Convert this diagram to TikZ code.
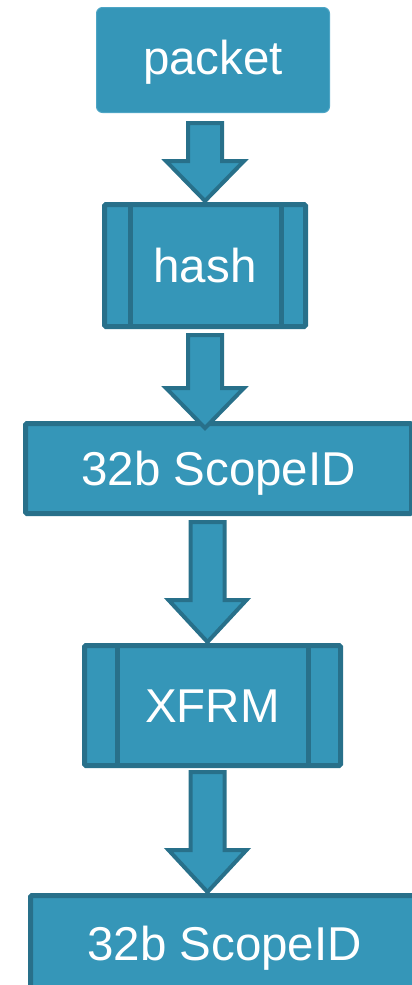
\documentclass[tikz,border=0pt]{standalone}
\usepackage{fontspec}
\setmainfont{Liberation Sans}
\usetikzlibrary{calc}

\definecolor{boxfill}{HTML}{3596B8}
\definecolor{boxline}{HTML}{28708A}
\definecolor{softline}{HTML}{4DA5C5}

\tikzset{
  x=1pt, y=-1pt,
  label text/.style={text=white, font=\fontsize{47.5}{47.5}\selectfont,
    text height=34pt, text depth=0pt, inner sep=0pt},
  roundbox/.style={label text, rectangle, rounded corners=6pt,
    fill=boxfill, draw=softline, line width=1pt},
  databox/.style={label text, rectangle, rounded corners=1.5pt,
    fill=boxfill, draw=boxline, line width=5pt},
  procbox/.style={databox},
  procline/.style={draw=boxline, line width=5pt},
  flow/.style={fill=boxfill, draw=boxline, line width=4pt, line join=miter},
}

% block arrow: #1 centre x, #2 upper node, #3 lower node,
% #4 gap below the upper node, #5 overshoot into the lower node, #6 head length
\newcommand\flowarrow[6]{%
  \draw[flow] let \p1=(#2.south), \p2=(#3.north) in
    (#1-17, \y1-#4pt-2pt) -- (#1+17, \y1-#4pt-2pt)
    -- (#1+17, \y2-#5pt+#6pt) -- (#1+39, \y2-#5pt+#6pt)
    -- (#1, \y2-#5pt)
    -- (#1-39, \y2-#5pt+#6pt) -- (#1-17, \y2-#5pt+#6pt) -- cycle;
}

\begin{document}
\begin{tikzpicture}
  \useasboundingbox (0,0) rectangle (412,985);
  \clip (0,0) rectangle (412,985);

  % boxes
  \node[roundbox, minimum width=233pt, minimum height=105pt, text depth=5pt]
    (packet) at (213,60) {packet};
  \node[procbox, minimum width=201pt, minimum height=122pt]
    (hash) at (205,265.5) {hash};
  \node[databox, minimum width=386pt, minimum height=90pt]
    (scopeA) at (218.5,468.5) {32b ScopeID};
  \node[procbox, minimum width=256pt, minimum height=120pt]
    (xfrm) at (212.5,705.5) {XFRM};
  \node[databox, minimum width=388pt, minimum height=95pt]
    (scopeB) at (224.5,943) {32b ScopeID};

  % side bars of the process boxes
  \draw[procline] ($(hash.north west)+(28.5,2.5)$) -- ($(hash.south west)+(28.5,-2.5)$);
  \draw[procline] ($(hash.north east)+(-26.5,2.5)$) -- ($(hash.south east)+(-26.5,-2.5)$);
  \draw[procline] ($(xfrm.north west)+(35,2.5)$) -- ($(xfrm.south west)+(35,-2.5)$);
  \draw[procline] ($(xfrm.north east)+(-34.5,2.5)$) -- ($(xfrm.south east)+(-34.5,-2.5)$);

  % arrows between the steps
  \flowarrow{205}{packet}{hash}{8}{-1}{40}
  \flowarrow{205}{hash}{scopeA}{4}{7}{40}
  \flowarrow{207.5}{scopeA}{xfrm}{4}{-1}{42}
  \flowarrow{207.5}{xfrm}{scopeB}{2}{-1}{42}
\end{tikzpicture}
\end{document}
